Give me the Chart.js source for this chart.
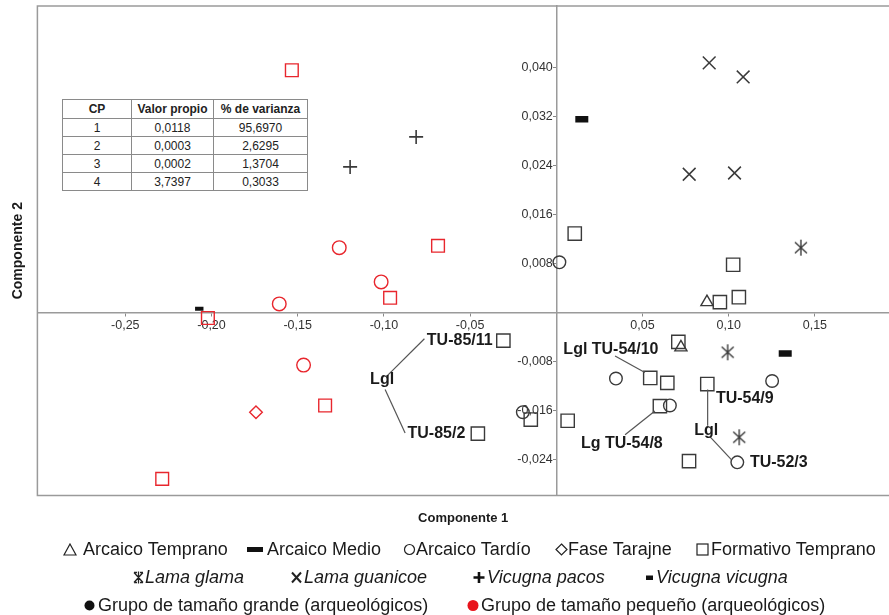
<!DOCTYPE html>
<html>
<head>
<meta charset="utf-8">
<script src="https://cdn.jsdelivr.net/npm/chart.js@4.4.1/dist/chart.umd.min.js"></script>
<style>
body { margin: 0; background: #fff; font-family: "Liberation Sans", Arial, sans-serif; }
#wrap { position: relative; width: 889px; height: 615px; overflow: hidden; }
#grafico { position: absolute; left: 0; top: 0; }
table { position: absolute; left: 62px; top: 99px; border-collapse: collapse; font-size: 12px; color: #222; background: #fff; }
th, td { border: 1px solid #8a8a8a; text-align: center; padding: 0; height: 17px; line-height: 16px; }
th { font-weight: bold; height: 18px; }
.it { position: absolute; white-space: nowrap; font-size: 18px; line-height: 22px; color: #1a1a1a; }
.it svg { position: absolute; top: 5px; }
.it span { position: absolute; top: 0; }
</style>
</head>
<body>
<div id="wrap">
<canvas id="grafico" width="889" height="615"></canvas>

<table>
  <tr><th style="width:68px">CP</th><th style="width:81px">Valor propio</th><th style="width:93px">% de varianza</th></tr>
  <tr><td>1</td><td>0,0118</td><td>95,6970</td></tr>
  <tr><td>2</td><td>0,0003</td><td>2,6295</td></tr>
  <tr><td>3</td><td>0,0002</td><td>1,3704</td></tr>
  <tr><td>4</td><td>3,7397</td><td>0,3033</td></tr>
</table>

<!-- leyenda -->
<div class="it" style="left:63px;top:538px"><svg width="14" height="13" style="left:0"><polygon points="7,1 13,12 1,12" fill="none" stroke="#222" stroke-width="1.2"/></svg><span style="left:20px">Arcaico Temprano</span></div>
<div class="it" style="left:247px;top:538px"><svg width="16" height="13" style="left:0"><rect x="0" y="4" width="16" height="5" fill="#111"/></svg><span style="left:20px">Arcaico Medio</span></div>
<div class="it" style="left:403px;top:538px"><svg width="13" height="13" style="left:0"><circle cx="6.5" cy="6.5" r="5" fill="none" stroke="#222" stroke-width="1.2"/></svg><span style="left:13px">Arcaico Tardío</span></div>
<div class="it" style="left:555px;top:538px"><svg width="13" height="13" style="left:0"><polygon points="6.5,1 12,6.5 6.5,12 1,6.5" fill="none" stroke="#222" stroke-width="1.2"/></svg><span style="left:13px">Fase Tarajne</span></div>
<div class="it" style="left:696px;top:538px"><svg width="13" height="13" style="left:0"><rect x="1" y="1" width="11" height="11" fill="none" stroke="#222" stroke-width="1.2"/></svg><span style="left:15px">Formativo Temprano</span></div>

<div class="it" style="left:133px;top:566px"><svg width="11" height="13" style="left:0"><path d="M1,1.5 L10,11.5 M10,1.5 L1,11.5 M5.5,0.5 L5.5,12.5 M1,1.5 L4,1.5 M7,1.5 L10,1.5 M1,11.5 L4,11.5 M7,11.5 L10,11.5" stroke="#222" stroke-width="1.3" fill="none"/></svg><span style="left:12px;font-style:italic">Lama glama</span></div>
<div class="it" style="left:291px;top:566px"><svg width="11" height="13" style="left:0"><path d="M1,1.5 L10,11.5 M10,1.5 L1,11.5" stroke="#222" stroke-width="2" fill="none"/></svg><span style="left:13px;font-style:italic">Lama guanicoe</span></div>
<div class="it" style="left:473px;top:566px"><svg width="12" height="13" style="left:0"><path d="M6,1 L6,12 M0.5,6.5 L11.5,6.5" stroke="#111" stroke-width="2.6" fill="none"/></svg><span style="left:14px;font-style:italic">Vicugna pacos</span></div>
<div class="it" style="left:646px;top:566px"><svg width="8" height="13" style="left:0"><rect x="0" y="4.5" width="7" height="4.5" fill="#111"/></svg><span style="left:10px;font-style:italic">Vicugna vicugna</span></div>

<div class="it" style="left:84px;top:594px"><svg width="11" height="13" style="left:0"><circle cx="5.5" cy="6.5" r="5" fill="#111"/></svg><span style="left:14px">Grupo de tamaño grande (arqueológicos)</span></div>
<div class="it" style="left:467px;top:594px"><svg width="12" height="13" style="left:0"><circle cx="6" cy="6.5" r="5.5" fill="#e8141c"/></svg><span style="left:14px">Grupo de tamaño pequeño (arqueológicos)</span></div>
</div>

<script>
// marcas de los ejes
const xTicks = [-0.25, -0.20, -0.15, -0.10, -0.05, 0.05, 0.10, 0.15];
const yTicks = [-0.024, -0.016, -0.008, 0.008, 0.016, 0.024, 0.032, 0.040];

// grupo de tamaño grande (arqueológicos) [CP1, CP2]
const arcaicoTemprano = [[0.0874, 0.0017], [0.0723, -0.0057]];
const arcaicoMedio = [[0.0148, 0.0316], [0.1328, -0.0067]];
const arcaicoTardio = [[-0.0194, -0.0163], [0.0018, 0.0082], [0.0346, -0.0108], [0.1252, -0.0112], [0.0659, -0.0152], [0.1050, -0.0245]];
const formativoTemprano = [[-0.0307, -0.0046], [-0.0455, -0.0198], [-0.0148, -0.0175], [0.0066, -0.0177], [0.0107, 0.0129],
  [0.1026, 0.0078], [0.1059, 0.0025], [0.0949, 0.0017], [0.0708, -0.0048], [0.0545, -0.0107],
  [0.0644, -0.0115], [0.0876, -0.0117], [0.0601, -0.0153], [0.0770, -0.0243]];

// grupo de tamaño pequeño (arqueológicos)
const arcaicoTardioPeq = [[-0.1259, 0.0106], [-0.1016, 0.0050], [-0.1607, 0.0014], [-0.1466, -0.0086]];
const faseTarajnePeq = [[-0.1742, -0.0163]];
const formativoTempranoPeq = [[-0.1534, 0.0396], [-0.0686, 0.0109], [-0.0964, 0.0024], [-0.2021, -0.0009], [-0.1341, -0.0152], [-0.2286, -0.0272]];

// referencias actuales
const lamaGlama = [[0.1419, 0.0106], [0.0994, -0.0065], [0.1061, -0.0204]];
const lamaGuanicoe = [[0.0887, 0.0408], [0.1084, 0.0385], [0.0771, 0.0226], [0.1034, 0.0228]];
const vicugnaPacos = [[-0.0813, 0.0287], [-0.1196, 0.0238]];
const vicugnaVicugna = [[-0.2071, 0.0006]];

// etiquetas de especímenes y líneas guía
const etiquetas = [
  ['TU-85/11', -0.0751, -0.0046], ['Lgl', -0.1080, -0.0109], ['TU-85/2', -0.0863, -0.0198],
  ['Lgl TU-54/10', 0.0041, -0.0060], ['TU-54/9', 0.0926, -0.0141], ['Lgl', 0.0800, -0.0193],
  ['Lg TU-54/8', 0.0143, -0.0215], ['TU-52/3', 0.1123, -0.0246]
];
const guias = [
  [[-0.0983, -0.0104], [-0.0765, -0.0043]],
  [[-0.0993, -0.0126], [-0.0877, -0.0197]],
  [[0.0341, -0.0071], [0.0514, -0.0098]],
  [[0.0878, -0.0126], [0.0878, -0.0185]],
  [[0.0891, -0.0203], [0.1017, -0.0241]],
  [[0.0399, -0.0200], [0.0572, -0.0161]]
];

const NEGRO = '#3a3a3a';
const ROJO = '#e8262d';
const FUENTE = '"Liberation Sans", Arial, sans-serif';

function asterisco(color) {
  const c = document.createElement('canvas');
  c.width = 18; c.height = 18;
  const g = c.getContext('2d');
  g.strokeStyle = color;
  g.lineWidth = 1.4;
  g.beginPath();
  g.moveTo(3, 3.5); g.lineTo(15, 14.5);
  g.moveTo(15, 3.5); g.lineTo(3, 14.5);
  g.moveTo(9, 1); g.lineTo(9, 17);
  g.stroke();
  return c;
}

function serie(label, pts, estilo, color, radio, grosor) {
  return {
    label: label,
    data: pts.map(p => ({x: p[0], y: p[1]})),
    pointStyle: estilo,
    pointRadius: radio,
    pointHoverRadius: radio,
    pointBorderColor: color,
    pointBackgroundColor: 'rgba(0,0,0,0)',
    pointBorderWidth: grosor || 1.4,
    pointHoverBorderWidth: grosor || 1.4,
    showLine: false
  };
}

// los ejes centrados no deben agregar margen al área del gráfico
function sinMargen(s) {
  s.paddingLeft = 0; s.paddingRight = 0; s.paddingTop = 0; s.paddingBottom = 0;
}

const marco = {
  id: 'marco',
  beforeDatasetsDraw(chart) {
    const {ctx, chartArea: {left, top, right, bottom}} = chart;
    ctx.save();
    ctx.strokeStyle = '#9a9a9a';
    ctx.lineWidth = 1.5;
    ctx.beginPath();
    ctx.moveTo(right + 2, top);
    ctx.lineTo(left, top);
    ctx.lineTo(left, bottom);
    ctx.lineTo(right + 2, bottom);
    ctx.stroke();
    ctx.restore();
  }
};

const anotaciones = {
  id: 'anotaciones',
  afterDatasetsDraw(chart) {
    const {ctx, scales: {x, y}} = chart;
    ctx.save();
    ctx.strokeStyle = '#555';
    ctx.lineWidth = 1.2;
    for (const [a, b] of guias) {
      ctx.beginPath();
      ctx.moveTo(x.getPixelForValue(a[0]), y.getPixelForValue(a[1]));
      ctx.lineTo(x.getPixelForValue(b[0]), y.getPixelForValue(b[1]));
      ctx.stroke();
    }
    ctx.font = 'bold 16px ' + FUENTE;
    ctx.fillStyle = '#1a1a1a';
    ctx.textBaseline = 'middle';
    ctx.textAlign = 'left';
    for (const [t, vx, vy] of etiquetas) {
      ctx.fillText(t, x.getPixelForValue(vx), y.getPixelForValue(vy));
    }
    ctx.restore();
  }
};

const xMin = -0.301, xMax = 0.193;
const yMin = -0.0299, yMax = 0.0501;

const ctx = document.getElementById('grafico').getContext('2d');

new Chart(ctx, {
  type: 'scatter',
  data: {
    datasets: [
      serie('Formativo Temprano', formativoTemprano, 'rect', NEGRO, 9.4),
      serie('Arcaico Tardío', arcaicoTardio, 'circle', NEGRO, 6.3),
      serie('Arcaico Temprano', arcaicoTemprano, 'triangle', NEGRO, 7),
      serie('Arcaico Medio', arcaicoMedio, 'line', '#111', 6.5, 6.5),
      serie('Lama glama', lamaGlama, asterisco(NEGRO), NEGRO, 9),
      serie('Lama guanicoe', lamaGuanicoe, 'crossRot', NEGRO, 9, 1.5),
      serie('Vicugna pacos', vicugnaPacos, 'cross', NEGRO, 7, 1.6),
      serie('Vicugna vicugna', vicugnaVicugna, 'line', '#111', 4.2, 4),
      serie('Formativo Temprano (pequeño)', formativoTempranoPeq, 'rect', ROJO, 9),
      serie('Arcaico Tardío (pequeño)', arcaicoTardioPeq, 'circle', ROJO, 6.8),
      serie('Fase Tarajne (pequeño)', faseTarajnePeq, 'rectRot', ROJO, 6.3)
    ]
  },
  options: {
    responsive: false,
    animation: false,
    layout: { autoPadding: false, padding: { top: 6, right: 0, left: 5, bottom: 85 } },
    plugins: { legend: { display: false }, tooltip: { enabled: false } },
    scales: {
      x: {
        type: 'linear', position: 'bottom', min: xMin, max: xMax,
        grid: { display: false, drawTicks: false }, border: { display: false }, ticks: { display: false },
        title: { display: true, text: 'Componente 1', color: '#1a1a1a',
          font: { family: FUENTE, size: 13, weight: 'bold' }, padding: { top: 15, bottom: 4 } }
      },
      y: {
        type: 'linear', position: 'left', min: yMin, max: yMax,
        grid: { display: false, drawTicks: false }, border: { display: false }, ticks: { display: false },
        title: { display: true, text: 'Componente 2', color: '#1a1a1a',
          font: { family: FUENTE, size: 14, weight: 'bold' }, padding: { top: 4.6, bottom: 11 } }
      },
      xc: {
        type: 'linear', position: { y: 0 }, min: xMin, max: xMax,
        afterBuildTicks: s => { s.ticks = xTicks.map(v => ({ value: v })); },
        afterFit: sinMargen,
        grid: { drawOnChartArea: false, tickLength: 3, color: '#888' },
        border: { color: '#9a9a9a', width: 1.5 },
        ticks: { autoSkip: false, maxRotation: 0, padding: 2.5, color: '#333',
          font: { family: FUENTE, size: 12.5 },
          callback: v => v.toFixed(2).replace('.', ',') }
      },
      yc: {
        type: 'linear', position: { x: 0 }, min: yMin, max: yMax,
        afterBuildTicks: s => { s.ticks = yTicks.map(v => ({ value: v })); },
        afterFit: sinMargen,
        grid: { drawOnChartArea: false, tickLength: 3, color: '#888' },
        border: { color: '#9a9a9a', width: 1.5 },
        ticks: { autoSkip: false, padding: 2, color: '#333',
          font: { family: FUENTE, size: 12.5 },
          callback: v => v.toFixed(3).replace('.', ',') + ' ' }
      }
    }
  },
  plugins: [marco, anotaciones]
});
</script>
</body>
</html>
